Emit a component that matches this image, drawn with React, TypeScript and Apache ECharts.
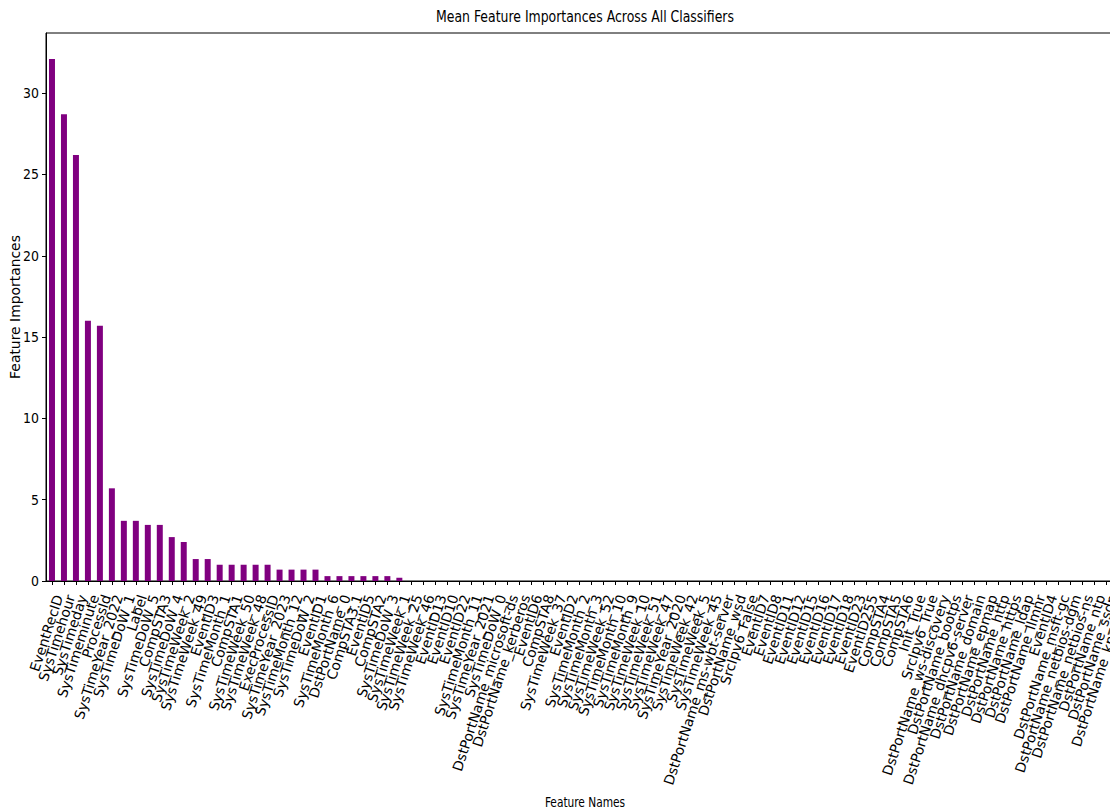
import React, { useEffect, useRef } from "react";
import * as echarts from "echarts";

const TITLE = "Mean Feature Importances Across All Classifiers";
const X_NAME = "Feature Names";
const Y_NAME = "Feature Importances";

const FEATURES = [
  "EventRecID", "SysTimehour", "SysTimeday", "SysTimeminute", "ProcessId",
  "SysTimeYear_2022", "SysTimeDoW_1", "Label", "SysTimeDoW_5", "CompSTA3",
  "SysTimeDoW_4", "SysTimeWeek_2", "SysTimeWeek_49", "EventID3", "SysTimeMonth_1",
  "CompSTA1", "SysTimeWeek_50", "SysTimeWeek_48", "ExecProcessID", "SysTimeYear_2023",
  "SysTimeMonth_12", "SysTimeDoW_2", "EventID1", "SysTimeMonth_6", "DstPortName_0",
  "CompSTA3.1", "EventID5", "CompSTA2", "SysTimeDoW_3", "SysTimeWeek_1",
  "SysTimeWeek_25", "SysTimeWeek_46", "EventID13", "EventID10", "EventID22",
  "SysTimeMonth_11", "SysTimeYear_2021", "SysTimeDoW_0", "DstPortName_microsoft-ds", "DstPortName_kerberos",
  "EventID6", "CompSTA8", "SysTimeWeek_37", "EventID2", "SysTimeMonth_2",
  "SysTimeMonth_3", "SysTimeWeek_52", "SysTimeMonth_10", "SysTimeMonth_9", "SysTimeWeek_10",
  "SysTimeWeek_51", "SysTimeWeek_47", "SysTimeYear_2020", "SysTimeWeek_42", "SysTimeWeek_5",
  "SysTimeWeek_45", "DstPortName_ms-wbt-server", "DstPortName_wsd", "SrcIpv6_False", "EventID7",
  "EventID8", "EventID11", "EventID12", "EventID15", "EventID16",
  "EventID17", "EventID18", "EventID23", "EventID255", "CompSTA4",
  "CompSTA5", "CompSTA6", "Init_True", "SrcIpv6_True", "DstPortName_ws-discovery",
  "DstPortName_bootps", "DstPortName_dhcpv6-server", "DstPortName_domain", "DstPortName_epmap", "DstPortName_http",
  "DstPortName_https", "DstPortName_ldap", "DstPortName_llmnr", "EventID4", "DstPortName_msft-gc",
  "DstPortName_netbios-dgm", "DstPortName_netbios-ns", "DstPortName_ntp", "DstPortName_ssdp", "DstPortName_kpasswd",
];

const IMPORTANCES = [
  32.1, 28.7, 26.2, 16.0, 15.7, 5.7, 3.7, 3.7, 3.45, 3.45,
  2.7, 2.4, 1.35, 1.35, 1.0, 1.0, 1.0, 1.0, 1.0, 0.7,
  0.7, 0.7, 0.7, 0.3, 0.3, 0.3, 0.3, 0.3, 0.3, 0.2,
  0, 0, 0, 0, 0, 0, 0, 0, 0, 0,
  0, 0, 0, 0, 0, 0, 0, 0, 0, 0,
  0, 0, 0, 0, 0, 0, 0, 0, 0, 0,
  0, 0, 0, 0, 0, 0, 0, 0, 0, 0,
  0, 0, 0, 0, 0, 0, 0, 0, 0, 0,
  0, 0, 0, 0, 0, 0, 0, 0, 0, 0,
];

const Y_TICKS = [0, 5, 10, 15, 20, 25, 30];
const Y_MAX = 33.7;

const NARROW = "'DejaVu Sans Condensed', 'DejaVu Sans', sans-serif";

export default function App() {
  const ref = useRef<HTMLDivElement>(null);

  useEffect(() => {
    if (!ref.current) return;
    const chart = echarts.init(ref.current, null, { renderer: "svg" });
    chart.setOption({
      animation: false,
      backgroundColor: "#ffffff",
      graphic: [
        {
          type: "text",
          x: 585,
          y: 17,
          scaleX: 0.83,
          style: {
            text: TITLE,
            font: "16.7px " + NARROW,
            fill: "#000",
            align: "center",
            verticalAlign: "middle",
          },
        },
        {
          type: "text",
          x: 585,
          y: 802,
          scaleX: 0.85,
          style: {
            text: X_NAME,
            font: "13.9px " + NARROW,
            fill: "#000",
            align: "center",
            verticalAlign: "middle",
          },
        },
        {
          type: "text",
          x: 15,
          y: 307,
          rotation: Math.PI / 2,
          style: {
            text: Y_NAME,
            font: "13.9px 'DejaVu Sans', sans-serif",
            fill: "#000",
            align: "center",
            verticalAlign: "middle",
          },
        },
      ],
      grid: {
        left: 46,
        top: 33,
        right: 6,
        bottom: 229,
        outerBoundsMode: "none",
        containLabel: false,
        show: true,
        borderColor: "#000",
        borderWidth: 1,
        backgroundColor: "transparent",
      },
      xAxis: {
        type: "category",
        data: FEATURES,
        axisLine: { show: true, lineStyle: { color: "#000", width: 1 } },
        axisTick: {
          show: true,
          alignWithLabel: true,
          interval: 0,
          length: 4,
          lineStyle: { color: "#000", width: 1 },
        },
        axisLabel: {
          interval: 0,
          rotate: 72,
          margin: 12,
          verticalAlign: "top",
          fontFamily: "'DejaVu Sans', sans-serif",
          fontSize: 13.9,
          color: "#000",
        },
        splitLine: { show: false },
      },
      yAxis: {
        type: "value",
        min: 0,
        max: Y_MAX,
        axisLine: { show: true, lineStyle: { color: "#000", width: 1 } },
        axisTick: {
          show: true,
          length: 4,
          customValues: Y_TICKS,
          lineStyle: { color: "#000", width: 1 },
        },
        axisLabel: {
          customValues: Y_TICKS,
          margin: 7,
          fontFamily: NARROW,
          fontSize: 13.9,
          color: "#000",
        },
        splitLine: { show: false },
      },
      series: [
        {
          type: "bar",
          data: IMPORTANCES,
          barWidth: "50%",
          itemStyle: { color: "#800080" },
        },
      ],
    });
    return () => chart.dispose();
  }, []);

  return (
    <div
      style={{
        position: "fixed",
        left: 0,
        top: 0,
        width: 1110,
        height: 810,
        overflow: "hidden",
        background: "#fff",
      }}
    >
      <div ref={ref} style={{ width: 1130, height: 810 }} />
    </div>
  );
}
